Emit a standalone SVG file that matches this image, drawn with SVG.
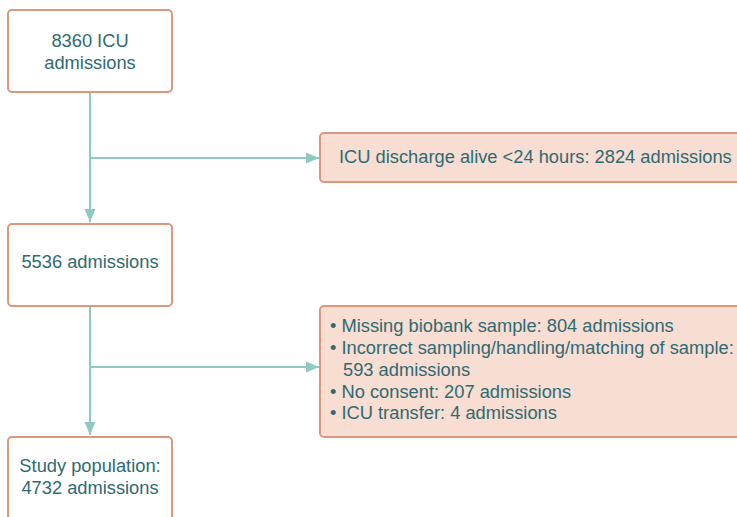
<svg xmlns="http://www.w3.org/2000/svg" width="737" height="517" viewBox="0 0 737 517">
<defs>
<style>
.box{fill:#ffffff;stroke:#dc977d;stroke-width:2}
.ex{fill:#f8ddd3;stroke:#dc977d;stroke-width:2}
.t{font-family:"Liberation Sans",Arial,sans-serif;font-size:18.3px;fill:#2e6a72}
.c{text-anchor:middle}
.ln{fill:none;stroke:#8ec9c2;stroke-width:2}
</style>
<marker id="ah" viewBox="0 0 13 12" refX="13" refY="6" markerWidth="13" markerHeight="12" markerUnits="userSpaceOnUse" orient="auto">
<path d="M0,0.5 L13,6 L0,11.5 Z" fill="#8ec9c2"/>
</marker>
</defs>
<g id="connectors">
<path class="ln" d="M90,92 V222" marker-end="url(#ah)"/>
<path class="ln" d="M90,158 H319" marker-end="url(#ah)"/>
<path class="ln" d="M90,306 V435" marker-end="url(#ah)"/>
<path class="ln" d="M90,367 H319" marker-end="url(#ah)"/>
</g>
<g id="n1">
<rect class="box" x="8" y="10" width="164" height="82" rx="4"/>
<text class="t c" x="90" y="47">8360 ICU</text>
<text class="t c" x="90" y="69">admissions</text>
</g>
<g id="ex1">
<rect class="ex" x="320" y="133" width="430" height="49" rx="4"/>
<text class="t" x="339" y="163">ICU discharge alive &lt;24 hours: 2824 admissions</text>
</g>
<g id="n2">
<rect class="box" x="8" y="224" width="164" height="82" rx="4"/>
<text class="t c" x="90" y="268">5536 admissions</text>
</g>
<g id="ex2">
<rect class="ex" x="320" y="306" width="430" height="131" rx="4"/>
<text class="t" x="330" y="332">• Missing biobank sample: 804 admissions</text>
<text class="t" x="330" y="354">• Incorrect sampling/handling/matching of sample:</text>
<text class="t" x="343" y="376">593 admissions</text>
<text class="t" x="330" y="398">• No consent: 207 admissions</text>
<text class="t" x="330" y="419">• ICU transfer: 4 admissions</text>
</g>
<g id="n3">
<rect class="box" x="8" y="437" width="164" height="100" rx="4"/>
<text class="t c" x="90" y="472">Study population:</text>
<text class="t c" x="90" y="494">4732 admissions</text>
</g>
</svg>
